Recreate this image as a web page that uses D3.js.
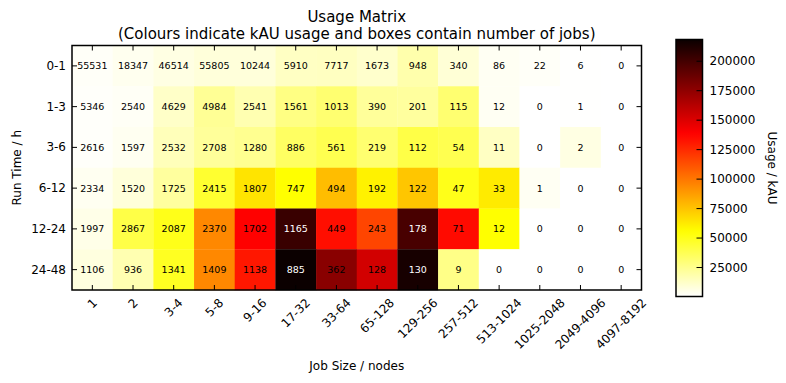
<!DOCTYPE html>
<html>
<head>
<meta charset="utf-8">
<script src="https://cdn.jsdelivr.net/npm/d3@7"></script>
<style>
  html, body { margin: 0; padding: 0; background: #fff; }
  svg { display: block; font-family: "DejaVu Sans", sans-serif; }
</style>
</head>
<body>
<svg id="chart" width="786" height="383"></svg>
<script>
// ---------- data ----------
const rowLabels = ["0-1", "1-3", "3-6", "6-12", "12-24", "24-48"];
const colLabels = ["1", "2", "3-4", "5-8", "9-16", "17-32", "33-64", "65-128",
  "129-256", "257-512", "513-1024", "1025-2048", "2049-4096", "4097-8192"];

// number of jobs per box (text)
const jobs01 = [55531, 18347, 46514, 55805, 10244, 5910, 7717, 1673, 948, 340, 86, 22, 6, 0];
const jobs13 = [5346, 2540, 4629, 4984, 2541, 1561, 1013, 390, 201, 115, 12, 0, 1, 0];
const jobs36 = [2616, 1597, 2532, 2708, 1280, 886, 561, 219, 112, 54, 11, 0, 2, 0];
const jobs612 = [2334, 1520, 1725, 2415, 1807, 747, 494, 192, 122, 47, 33, 1, 0, 0];
const jobs1224 = [1997, 2867, 2087, 2370, 1702, 1165, 449, 243, 178, 71, 12, 0, 0, 0];
const jobs2448 = [1106, 936, 1341, 1409, 1138, 885, 362, 128, 130, 9, 0, 0, 0, 0];

// kAU usage per box (colour)
const usage01 = [1500, 3500, 6000, 8000, 8000, 13000, 13500, 11000, 18000, 9000, 2500, 1500, 300, 0];
const usage13 = [1000, 2000, 12000, 23000, 17000, 27000, 31000, 22000, 21000, 31000, 2500, 0, 300, 0];
const usage36 = [1000, 3000, 15000, 22000, 24000, 34000, 38000, 31000, 40000, 38000, 13000, 0, 6000, 0];
const usage612 = [3000, 8000, 21000, 45000, 64000, 55500, 77000, 59500, 74000, 50000, 62000, 2500, 0, 0];
const usage1224 = [5000, 40000, 50000, 94000, 138000, 203000, 134000, 116000, 198000, 135000, 55500, 0, 0, 0];
const usage2448 = [7000, 17000, 48000, 94000, 131000, 218000, 177000, 153000, 214000, 26000, 0, 0, 0, 0];

const colourTicks = [25000, 50000, 75000, 100000, 125000, 150000, 175000, 200000];

const jobsRows = [jobs01, jobs13, jobs36, jobs612, jobs1224, jobs2448];
const usageRows = [usage01, usage13, usage36, usage612, usage1224, usage2448];

// ---------- colormap: matplotlib "hot_r" ----------
function hotR(t) {
  t = Math.max(0, Math.min(1, t));
  const x = 1 - t;
  const r = x < 0.365079 ? 0.0416 + (1 - 0.0416) * x / 0.365079 : 1;
  const g = x < 0.365079 ? 0 : (x < 0.746032 ? (x - 0.365079) / (0.746032 - 0.365079) : 1);
  const b = x < 0.746032 ? 0 : (x - 0.746032) / (1 - 0.746032);
  return d3.rgb(Math.round(r * 255), Math.round(g * 255), Math.round(b * 255)).formatHex();
}

const cells = [];
rowLabels.forEach((r, i) => colLabels.forEach((c, j) => {
  cells.push({ row: r, col: c, jobs: jobsRows[i][j], usage: usageRows[i][j] });
}));

const vmin = 0;
const vmax = d3.max(cells, d => d.usage);
const norm = d3.scaleLinear().domain([vmin, vmax]).range([0, 1]).clamp(true);
const colour = v => hotR(norm(v));

// ---------- layout ----------
const svg = d3.select("#chart");
const L = 72, R = 641.5, T = 45.5, B = 290;

const x = d3.scaleBand().domain(colLabels).range([L, R]).padding(0);
const y = d3.scaleBand().domain(rowLabels).range([T, B]).padding(0);

// cells
svg.append("g").selectAll("rect").data(cells).enter().append("rect")
  .attr("x", d => x(d.col)).attr("y", d => y(d.row))
  .attr("width", x.bandwidth() + 0.3).attr("height", y.bandwidth() + 0.3)
  .attr("fill", d => colour(d.usage));

// cell text
svg.append("g").selectAll("text").data(cells).enter().append("text")
  .attr("x", d => x(d.col) + x.bandwidth() / 2)
  .attr("y", d => y(d.row) + y.bandwidth() / 2)
  .attr("text-anchor", "middle").attr("dominant-baseline", "central")
  .attr("font-size", 9.5)
  .attr("fill", d => norm(d.usage) > 0.85 ? "#ffffff" : "#000000")
  .text(d => d.jobs);

// axes (ticks inside)
const tickLen = 5;
const gTop = svg.append("g").attr("transform", `translate(0,${T})`)
  .call(d3.axisTop(x).tickSize(-tickLen).tickFormat(""));
const gBottom = svg.append("g").attr("transform", `translate(0,${B})`)
  .call(d3.axisBottom(x).tickSize(-tickLen).tickPadding(0));
const gLeft = svg.append("g").attr("transform", `translate(${L},0)`)
  .call(d3.axisLeft(y).tickSize(-tickLen).tickPadding(6));
const gRight = svg.append("g").attr("transform", `translate(${R},0)`)
  .call(d3.axisRight(y).tickSize(-tickLen).tickFormat(""));
[gTop, gBottom, gLeft, gRight].forEach(g => {
  g.select(".domain").remove();
  g.selectAll(".tick line").attr("stroke", "#000").attr("stroke-width", 1);
});
gLeft.selectAll(".tick text").attr("font-size", 12).attr("fill", "#000")
  .attr("font-family", "DejaVu Sans").attr("dy", null).attr("dominant-baseline", "central");

// rotated bottom labels (matplotlib rotation=45, ha=center, va=top)
gBottom.selectAll(".tick text").each(function () {
  const t = d3.select(this);
  t.attr("font-size", 12).attr("fill", "#000").attr("font-family", "DejaVu Sans")
    .attr("y", null).attr("dy", null)
    .attr("text-anchor", "middle").attr("dominant-baseline", "central");
  const w = this.getComputedTextLength();
  const h = 12;
  const cy = 6.5 + (w + h) * Math.SQRT1_2 / 2;
  t.attr("transform", `translate(0,${cy}) rotate(-45)`);
});

// frame
svg.append("rect").attr("x", L).attr("y", T).attr("width", R - L).attr("height", B - T)
  .attr("fill", "none").attr("stroke", "#000").attr("stroke-width", 1.5);

// titles
svg.append("text").attr("x", (L + R) / 2).attr("y", 22).attr("text-anchor", "middle")
  .attr("font-size", 15).text("Usage Matrix");
svg.append("text").attr("x", (L + R) / 2).attr("y", 38.5).attr("text-anchor", "middle")
  .attr("font-size", 15).text("(Colours indicate kAU usage and boxes contain number of jobs)");
svg.append("text").attr("x", (L + R) / 2).attr("y", 370).attr("text-anchor", "middle")
  .attr("font-size", 12).text("Job Size / nodes");
svg.append("text").attr("transform", `translate(21,${(T + B) / 2}) rotate(-90)`)
  .attr("text-anchor", "middle").attr("font-size", 12).text("Run Time / h");

// ---------- colorbar ----------
const cbL = 676, cbR = 702.5, cbT = 39.5, cbB = 296.5;
const cy = d3.scaleLinear().domain([vmin, vmax]).range([cbB, cbT]);
const defs = svg.append("defs");
const grad = defs.append("linearGradient").attr("id", "cbgrad")
  .attr("x1", 0).attr("y1", 1).attr("x2", 0).attr("y2", 0);
grad.selectAll("stop").data(d3.range(0, 1.0001, 0.02)).enter().append("stop")
  .attr("offset", d => d).attr("stop-color", d => hotR(d));
svg.append("rect").attr("x", cbL).attr("y", cbT).attr("width", cbR - cbL).attr("height", cbB - cbT)
  .attr("fill", "url(#cbgrad)");
const gCb = svg.append("g").attr("transform", `translate(${cbR},0)`)
  .call(d3.axisRight(cy).tickValues(colourTicks).tickSize(-6).tickPadding(7).tickFormat(d3.format("d")));
gCb.select(".domain").remove();
gCb.selectAll(".tick line").attr("stroke", "#000");
gCb.selectAll(".tick text").attr("font-size", 12).attr("fill", "#000")
  .attr("font-family", "DejaVu Sans").attr("dy", null).attr("dominant-baseline", "central");
svg.append("rect").attr("x", cbL).attr("y", cbT).attr("width", cbR - cbL).attr("height", cbB - cbT)
  .attr("fill", "none").attr("stroke", "#000").attr("stroke-width", 1.5);
svg.append("text").attr("transform", `translate(768,${(cbT + cbB) / 2}) rotate(90)`)
  .attr("text-anchor", "middle").attr("font-size", 12).text("Usage / kAU");
</script>
</body>
</html>
